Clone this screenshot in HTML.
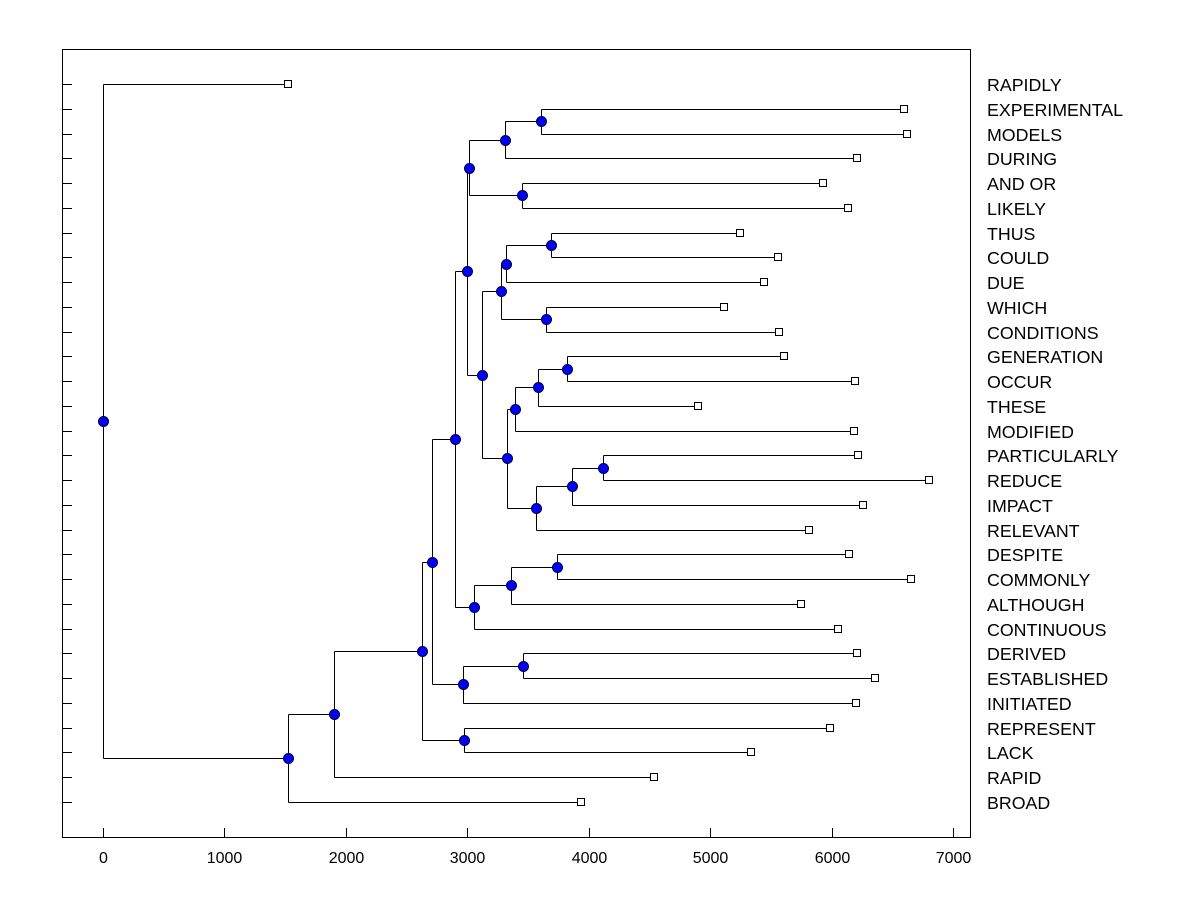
<!DOCTYPE html>
<html><head><meta charset="utf-8"><style>
body{margin:0;background:#fff;}
svg text{font-family:"Liberation Sans",Arial,sans-serif;}
</style></head><body>
<svg id="chart" width="1200" height="900" xmlns="http://www.w3.org/2000/svg">
<rect x="0" y="0" width="1200" height="900" fill="#fff"/>
<rect x="62.5" y="49.5" width="908" height="788" fill="none" stroke="#000"/>
<g id="axes"></g>
<g id="links"></g>
<g id="marks"></g>
</svg>
<script>
const leafLabels = ["RAPIDLY","EXPERIMENTAL","MODELS","DURING","AND OR","LIKELY","THUS","COULD","DUE","WHICH","CONDITIONS","GENERATION","OCCUR","THESE","MODIFIED","PARTICULARLY","REDUCE","IMPACT","RELEVANT","DESPITE","COMMONLY","ALTHOUGH","CONTINUOUS","DERIVED","ESTABLISHED","INITIATED","REPRESENT","LACK","RAPID","BROAD"];
const leafValues = [1524,6598,6623,6211,5931,6137,5247,5560,5445,5115,5568,5610,6194,4901,6186,6219,6804,6260,5815,6145,6656,5750,6054,6211,6359,6203,5988,5338,4539,3937];
const nodeNames = ["root","n1","n2","n3","n4","n5","n6","n7","n8","n9","n10","n11","n12","n13","n14","n15","n16","n17","n18","n19","n20","n21","n22","n23","n24","n25","n26","n27","n28"];
const nodeHeights = [0,1524,1903,2628,2710,2974,2900,2965,3460,2998,3056,3361,3740,3015,3122,3311,3451,3608,3278,3328,3320,3649,3690,3394,3567,3583,3822,3863,4119];
const nodeChildren = [["L0","n1"],["n2","L29"],["n3","L28"],["n4","n5"],["n6","n7"],["L26","L27"],["n9","n10"],["n8","L25"],["L23","L24"],["n13","n14"],["n11","L22"],["n12","L21"],["L19","L20"],["n15","n16"],["n18","n19"],["n17","L3"],["L4","L5"],["L1","L2"],["n20","n21"],["n23","n24"],["n22","L8"],["L9","L10"],["L6","L7"],["n25","L14"],["n27","L18"],["n26","L13"],["L11","L12"],["n28","L17"],["L15","L16"]];
const xTicks = [0,1000,2000,3000,4000,5000,6000,7000];

const NS="http://www.w3.org/2000/svg";
const xS = v => 103 + v*0.12143;
const yS = i => 84 + i*(802-84)/29;
const axes=document.getElementById('axes'), links=document.getElementById('links'), marks=document.getElementById('marks');
function mk(tag,attrs,parent){const e=document.createElementNS(NS,tag);for(const k in attrs)e.setAttribute(k,attrs[k]);parent.appendChild(e);return e;}

xTicks.forEach(t=>{
  const x=Math.round(xS(t))+0.5;
  const l=mk('line',{x1:x,x2:x,y1:828,y2:838,stroke:'#000'},axes);
  
  
  const tx=mk('text',{x:x,y:863,'text-anchor':'middle','font-size':'16'},axes);
  tx.textContent=t;
  
  
});
leafLabels.forEach((lab,i)=>{
  const y=Math.round(yS(i))+0.5;
  const l=mk('line',{x1:62,x2:72,y1:y,y2:y,stroke:'#000'},axes);
  
  
  const tx=mk('text',{x:987,y:y+6.5,'font-size':'17.8'},axes);
  tx.textContent=lab;
  
  
});

const pos={};
function resolve(id){
  if(pos[id])return pos[id];
  if(id[0]==='L'){const i=+id.slice(1);pos[id]={x:xS(leafValues[i]),y:yS(i)};}
  else{const k=nodeNames.indexOf(id);const a=resolve(nodeChildren[k][0]),b=resolve(nodeChildren[k][1]);pos[id]={x:xS(nodeHeights[k]),y:(a.y+b.y)/2};}
  return pos[id];
}
nodeNames.forEach((n,k)=>{
  const p=resolve(n);
  const c=nodeChildren[k].map(resolve);
  const px=Math.round(p.x)+0.5;
  const v=mk('line',{x1:px,x2:px,y1:Math.round(c[0].y)+0.5,y2:Math.round(c[1].y)+0.5,stroke:'#000'},links);
  
  
  c.forEach(cc=>{
    const y=Math.round(cc.y)+0.5;
    const h=mk('line',{x1:px,x2:Math.round(cc.x)+0.5,y1:y,y2:y,stroke:'#000'},links);
    
    
  });
});
leafLabels.forEach((lab,i)=>{
  const p=resolve('L'+i);
  const r=mk('rect',{x:Math.round(p.x)-3.5,y:Math.round(p.y)-3.5,width:7,height:7,fill:'#fff',stroke:'#000'},marks);
  
  
});
nodeNames.forEach(n=>{
  const p=resolve(n);
  const c=mk('circle',{cx:Math.round(p.x)+0.5,cy:Math.round(p.y)+0.5,r:5,fill:'#0000ff',stroke:'#000033'},marks);
  
  
});
</script>
</body></html>
